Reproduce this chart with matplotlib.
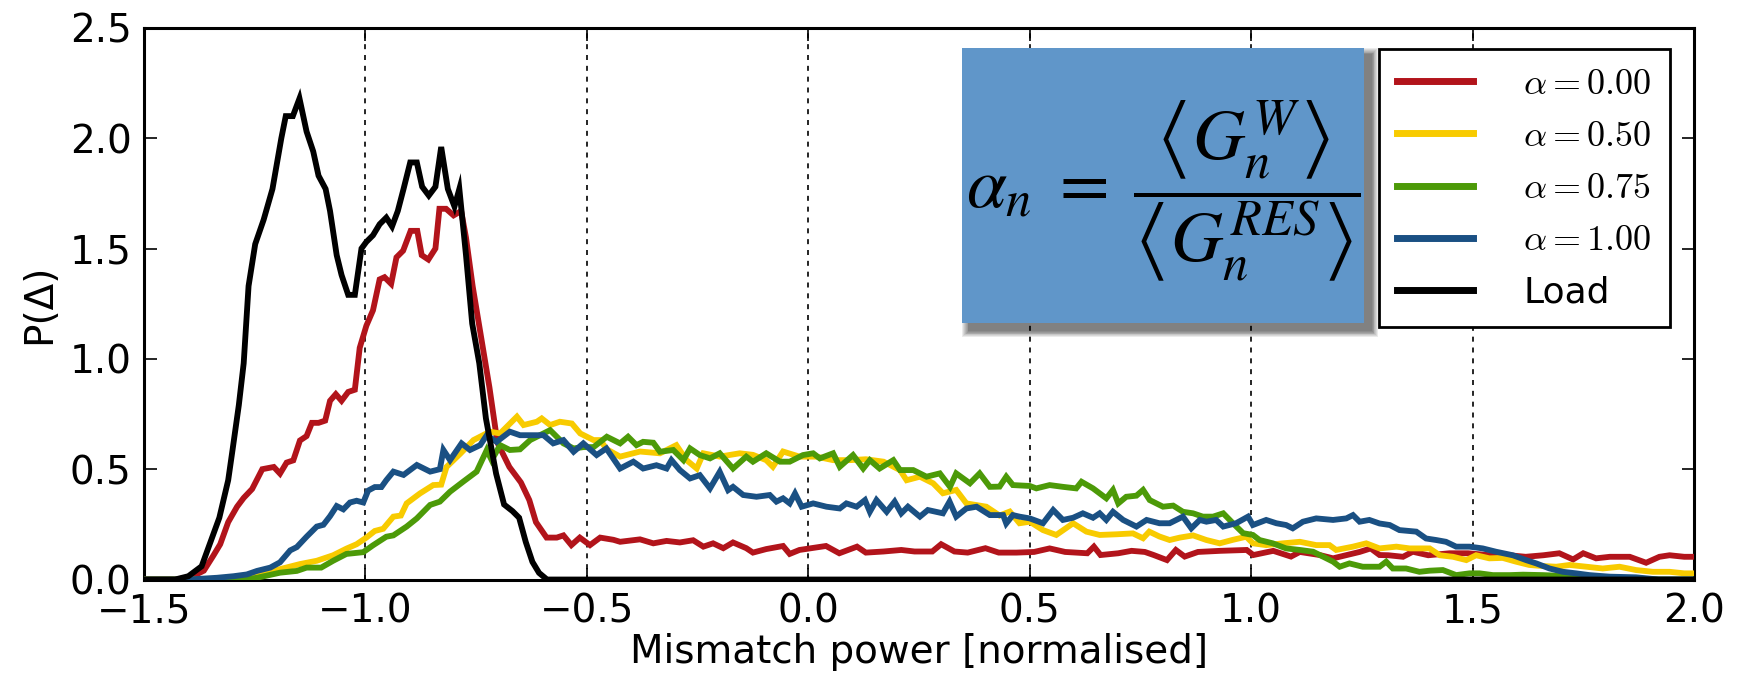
import numpy as np
import matplotlib
matplotlib.use("Agg")
import matplotlib.pyplot as plt
from matplotlib.patches import Rectangle

plt.rcParams.update({
    "font.family":      "DejaVu Sans",
    "mathtext.fontset": "cm",
    "font.size":        28,
    "axes.linewidth":   2.2,
    "xtick.direction":  "in",
    "ytick.direction":  "in",
    "xtick.top":        True,
    "ytick.right":      True,
    "xtick.major.size": 9,
    "ytick.major.size": 9,
    "xtick.major.width": 1.2,
    "ytick.major.width": 1.2,
    "xtick.major.pad":  9,
    "ytick.major.pad":  9,
})

RED    = "#B2141B"
YELLOW = "#F8CB00"
GREEN  = "#4C9A08"
BLUE   = "#1A5083"
BOXC   = "#6096C9"

labels = [r"$\alpha = 0.00$", r"$\alpha = 0.50$", r"$\alpha = 0.75$", r"$\alpha = 1.00$", "Load"]

# alpha = 0.00
x_red = [-1.5, -1.425, -1.39, -1.365, -1.343, -1.328, -1.31, -1.29, -1.275, -1.256, -1.233, -1.207,
         -1.193, -1.178, -1.163, -1.148, -1.133, -1.121, -1.106, -1.091, -1.08, -1.067, -1.054, -1.039,
         -1.024, -1.013, -0.998, -0.983, -0.968, -0.957, -0.942, -0.93, -0.915, -0.898, -0.883, -0.873,
         -0.858, -0.842, -0.833, -0.818, -0.801, -0.784, -0.773, -0.758, -0.739, -0.72, -0.702, -0.675,
         -0.649, -0.63, -0.615, -0.591, -0.568, -0.553, -0.535, -0.516, -0.493, -0.47, -0.44, -0.425,
         -0.38, -0.35, -0.32, -0.29, -0.26, -0.237, -0.215, -0.192, -0.17, -0.14, -0.125, -0.095,
         -0.057, -0.042, -0.02, 0.0, 0.04, 0.07, 0.11, 0.13, 0.17, 0.21, 0.24, 0.28, 0.30, 0.33, 0.36,
         0.40, 0.43, 0.47, 0.51, 0.545, 0.58, 0.63, 0.645, 0.66, 0.70, 0.73, 0.76, 0.78, 0.81, 0.83,
         0.85, 0.88, 0.93, 0.99, 1.005, 1.05, 1.09, 1.11, 1.155, 1.185, 1.245, 1.27, 1.29, 1.31, 1.343,
         1.365, 1.40, 1.448, 1.49, 1.54, 1.583, 1.62, 1.66, 1.696, 1.727, 1.75, 1.779, 1.81, 1.855,
         1.892, 1.922, 1.945, 1.978, 2.0]
y_red = [0, 0, 0.015, 0.04, 0.11, 0.16, 0.26, 0.33, 0.37, 0.41, 0.50, 0.51,
         0.48, 0.53, 0.54, 0.63, 0.65, 0.71, 0.71, 0.72, 0.81, 0.84, 0.81, 0.85,
         0.86, 1.05, 1.15, 1.22, 1.36, 1.37, 1.34, 1.46, 1.49, 1.58, 1.58, 1.47,
         1.45, 1.50, 1.68, 1.68, 1.65, 1.67, 1.55, 1.33, 1.10, 0.87, 0.62, 0.51,
         0.44, 0.36, 0.26, 0.19, 0.19, 0.20, 0.156, 0.19, 0.156, 0.19, 0.18, 0.171,
         0.182, 0.164, 0.175, 0.168, 0.178, 0.149, 0.164, 0.142, 0.168, 0.142, 0.122, 0.138,
         0.152, 0.116, 0.134, 0.14, 0.152, 0.119, 0.149, 0.122, 0.127, 0.134, 0.127, 0.127, 0.16, 0.127, 0.122,
         0.142, 0.122, 0.122, 0.125, 0.141, 0.125, 0.119, 0.149, 0.111, 0.119, 0.13, 0.125, 0.111, 0.088, 0.134,
         0.104, 0.125, 0.13, 0.134, 0.111, 0.13, 0.104, 0.125, 0.111, 0.096, 0.125, 0.141, 0.111, 0.11, 0.103,
         0.126, 0.11, 0.119, 0.119, 0.11, 0.11, 0.103, 0.11, 0.119, 0.091, 0.119, 0.096, 0.103, 0.103,
         0.076, 0.103, 0.11, 0.103, 0.103]

# alpha = 0.50
x_yel = [-1.5, -1.30, -1.245, -1.193, -1.148, -1.11, -1.073, -1.043, -1.02, -0.998, -0.979, -0.96,
         -0.937, -0.92, -0.907, -0.877, -0.847, -0.829, -0.817, -0.786, -0.756, -0.719, -0.696, -0.658,
         -0.643, -0.613, -0.602, -0.583, -0.561, -0.534, -0.515, -0.485, -0.47, -0.455, -0.425, -0.38,
         -0.335, -0.298, -0.275, -0.252, -0.237, -0.2, -0.155, -0.125, -0.095, -0.08, -0.057, -0.02,
         0.018, 0.056, 0.094, 0.13, 0.17, 0.207, 0.222, 0.252, 0.282, 0.304, 0.334, 0.357, 0.402, 0.432,
         0.455, 0.477, 0.50, 0.53, 0.56, 0.598, 0.628, 0.658, 0.696, 0.733, 0.756, 0.77, 0.793, 0.816,
         0.839, 0.869, 0.899, 0.929, 0.959, 0.989, 1.004, 1.034, 1.072, 1.11, 1.147, 1.177, 1.192, 1.23,
         1.26, 1.29, 1.328, 1.358, 1.403, 1.426, 1.456, 1.486, 1.508, 1.538, 1.568, 1.598, 1.628, 1.659,
         1.689, 1.719, 1.757, 1.794, 1.832, 1.869, 1.907, 1.945, 1.978, 2.0]
y_yel = [0, 0, 0.023, 0.047, 0.07, 0.085, 0.11, 0.14, 0.16, 0.19, 0.22, 0.23,
         0.285, 0.29, 0.345, 0.39, 0.428, 0.43, 0.51, 0.57, 0.632, 0.67, 0.662, 0.738,
         0.70, 0.715, 0.73, 0.70, 0.715, 0.707, 0.662, 0.632, 0.632, 0.59, 0.557, 0.58,
         0.572, 0.609, 0.541, 0.503, 0.572, 0.557, 0.572, 0.565, 0.541, 0.511, 0.58, 0.557,
         0.557, 0.541, 0.541, 0.545, 0.534, 0.496, 0.45, 0.466, 0.436, 0.391, 0.406, 0.345, 0.33, 0.29,
         0.308, 0.255, 0.262, 0.224, 0.202, 0.255, 0.217, 0.202, 0.205, 0.209, 0.187, 0.217, 0.195, 0.179,
         0.19, 0.20, 0.179, 0.164, 0.18, 0.194, 0.164, 0.156, 0.164, 0.171, 0.156, 0.156, 0.134, 0.149,
         0.164, 0.141, 0.149, 0.141, 0.141, 0.11, 0.103, 0.088, 0.11, 0.096, 0.098, 0.081, 0.066, 0.061,
         0.058, 0.066, 0.058, 0.05, 0.058, 0.043, 0.035, 0.035, 0.028, 0.028]

# alpha = 0.75
x_grn = [-1.5, -1.27, -1.245, -1.193, -1.155, -1.133, -1.10, -1.073, -1.043, -1.005, -0.983, -0.953,
         -0.937, -0.907, -0.884, -0.854, -0.832, -0.809, -0.779, -0.749, -0.726, -0.715, -0.696, -0.674,
         -0.651, -0.628, -0.606, -0.583, -0.553, -0.53, -0.508, -0.485, -0.455, -0.425, -0.407, -0.388,
         -0.373, -0.35, -0.335, -0.305, -0.282, -0.267, -0.245, -0.222, -0.2, -0.17, -0.14, -0.125,
         -0.095, -0.064, -0.042, -0.012, 0.011, 0.026, 0.056, 0.071, 0.101, 0.124, 0.139, 0.161, 0.192,
         0.207, 0.237, 0.267, 0.297, 0.32, 0.334, 0.365, 0.387, 0.41, 0.432, 0.447, 0.462, 0.50, 0.515,
         0.545, 0.575, 0.605, 0.617, 0.643, 0.673, 0.688, 0.70, 0.718, 0.741, 0.756, 0.771, 0.801, 0.824,
         0.846, 0.869, 0.891, 0.914, 0.937, 0.959, 0.982, 1.004, 1.019, 1.049, 1.079, 1.11, 1.14, 1.162,
         1.185, 1.20, 1.222, 1.252, 1.29, 1.305, 1.32, 1.35, 1.38, 1.403, 1.433, 1.463, 1.493, 1.516,
         1.546, 1.584, 1.614, 1.659, 1.696, 1.734, 1.794, 1.87, 1.92, 2.0]
y_grn = [0, 0, 0.008, 0.031, 0.039, 0.054, 0.054, 0.085, 0.116, 0.124, 0.155, 0.194,
         0.20, 0.24, 0.277, 0.338, 0.353, 0.398, 0.444, 0.489, 0.587, 0.541, 0.609, 0.587,
         0.59, 0.632, 0.654, 0.677, 0.617, 0.594, 0.60, 0.60, 0.647, 0.617, 0.647, 0.609,
         0.624, 0.62, 0.579, 0.587, 0.541, 0.594, 0.564, 0.549, 0.572, 0.503, 0.557, 0.534,
         0.572, 0.534, 0.534, 0.564, 0.572, 0.549, 0.572, 0.511, 0.564, 0.503, 0.541, 0.503, 0.541,
         0.496, 0.496, 0.466, 0.481, 0.42, 0.481, 0.436, 0.481, 0.42, 0.421, 0.466, 0.428, 0.424, 0.413,
         0.428, 0.42, 0.413, 0.443, 0.413, 0.368, 0.406, 0.345, 0.375, 0.38, 0.406, 0.36, 0.33, 0.335,
         0.307, 0.30, 0.285, 0.285, 0.30, 0.255, 0.21, 0.202, 0.179, 0.164, 0.141, 0.134, 0.126, 0.104,
         0.081, 0.058, 0.073, 0.058, 0.058, 0.081, 0.05, 0.05, 0.035, 0.04, 0.043, 0.02, 0.028, 0.028,
         0.02, 0.02, 0.022, 0.02, 0.017, 0.013, 0.01, 0.005, 0, 0]

# alpha = 1.00
x_blu = [-1.5, -1.40, -1.335, -1.298, -1.268, -1.245, -1.215, -1.193, -1.17, -1.155, -1.133, -1.11,
         -1.095, -1.08, -1.065, -1.05, -1.035, -1.02, -1.005, -0.994, -0.979, -0.964, -0.953, -0.937,
         -0.914, -0.884, -0.854, -0.832, -0.824, -0.809, -0.783, -0.764, -0.741, -0.726, -0.704, -0.674,
         -0.651, -0.628, -0.598, -0.576, -0.553, -0.53, -0.508, -0.478, -0.456, -0.425, -0.395, -0.373,
         -0.343, -0.32, -0.309, -0.29, -0.267, -0.245, -0.222, -0.20, -0.181, -0.17, -0.147, -0.117,
         -0.087, -0.072, -0.057, -0.042, -0.03, -0.015, 0.011, 0.041, 0.071, 0.086, 0.109, 0.128, 0.139,
         0.154, 0.177, 0.195, 0.21, 0.225, 0.252, 0.27, 0.304, 0.319, 0.334, 0.357, 0.38, 0.41, 0.44,
         0.447, 0.462, 0.477, 0.50, 0.53, 0.553, 0.575, 0.598, 0.62, 0.643, 0.658, 0.673, 0.688, 0.711,
         0.741, 0.764, 0.793, 0.816, 0.846, 0.865, 0.884, 0.899, 0.921, 0.937, 0.966, 0.993, 1.004,
         1.034, 1.057, 1.079, 1.094, 1.117, 1.147, 1.185, 1.215, 1.23, 1.245, 1.267, 1.29, 1.313, 1.335,
         1.373, 1.395, 1.418, 1.44, 1.463, 1.493, 1.523, 1.553, 1.591, 1.621, 1.644, 1.674, 1.704, 1.734,
         1.764, 1.809, 1.869, 1.92, 2.0]
y_blu = [0, 0, 0.008, 0.015, 0.023, 0.039, 0.054, 0.078, 0.132, 0.147, 0.194, 0.24,
         0.248, 0.287, 0.333, 0.318, 0.349, 0.357, 0.349, 0.403, 0.419, 0.419, 0.45, 0.489,
         0.474, 0.519, 0.489, 0.50, 0.587, 0.541, 0.617, 0.587, 0.609, 0.654, 0.624, 0.67,
         0.654, 0.654, 0.654, 0.617, 0.632, 0.579, 0.617, 0.564, 0.594, 0.503, 0.534, 0.503,
         0.518, 0.503, 0.541, 0.496, 0.458, 0.473, 0.413, 0.488, 0.405, 0.42, 0.383, 0.375,
         0.383, 0.353, 0.368, 0.345, 0.39, 0.33, 0.345, 0.33, 0.322, 0.345, 0.33, 0.36, 0.307,
         0.36, 0.307, 0.353, 0.30, 0.33, 0.285, 0.315, 0.30, 0.353, 0.285, 0.322, 0.33, 0.292, 0.292,
         0.254, 0.292, 0.285, 0.277, 0.255, 0.315, 0.27, 0.28, 0.30, 0.28, 0.30, 0.27, 0.307, 0.27,
         0.24, 0.27, 0.255, 0.255, 0.285, 0.232, 0.27, 0.262, 0.27, 0.24, 0.255, 0.285, 0.247,
         0.27, 0.255, 0.247, 0.232, 0.262, 0.277, 0.27, 0.277, 0.292, 0.262, 0.27, 0.254, 0.247, 0.224,
         0.217, 0.186, 0.179, 0.171, 0.149, 0.149, 0.141, 0.126, 0.11, 0.088, 0.073, 0.05, 0.035, 0.028,
         0.02, 0.013, 0.01, 0, 0]

# load
x_load = [-1.5, -1.43, -1.40, -1.37, -1.35, -1.33, -1.31, -1.30, -1.286, -1.275, -1.264, -1.249,
          -1.23, -1.21, -1.19, -1.18, -1.164, -1.149, -1.133, -1.118, -1.106, -1.09, -1.08, -1.065,
          -1.054, -1.039, -1.024, -1.009, -0.998, -0.983, -0.968, -0.953, -0.94, -0.927, -0.914, -0.899,
          -0.884, -0.872, -0.857, -0.842, -0.829, -0.814, -0.799, -0.788, -0.773, -0.759, -0.743, -0.728,
          -0.705, -0.687, -0.668, -0.653, -0.638, -0.623, -0.608, -0.59, 2.0]
y_load = [0, 0, 0.015, 0.06, 0.17, 0.28, 0.45, 0.59, 0.79, 0.98, 1.33, 1.52,
          1.63, 1.77, 2.00, 2.10, 2.10, 2.18, 2.03, 1.94, 1.83, 1.77, 1.67, 1.47,
          1.38, 1.29, 1.29, 1.50, 1.53, 1.56, 1.61, 1.64, 1.60, 1.67, 1.77, 1.89,
          1.89, 1.78, 1.74, 1.78, 1.96, 1.77, 1.69, 1.77, 1.47, 1.16, 0.98, 0.73,
          0.48, 0.34, 0.31, 0.28, 0.17, 0.08, 0.03, 0.0, 0.0]

xticks = [-1.5, -1.0, -0.5, 0.0, 0.5, 1.0, 1.5, 2.0]
yticks = [0.0, 0.5, 1.0, 1.5, 2.0, 2.5]

fig = plt.figure(figsize=(17.44, 6.79), dpi=100)
ax = fig.add_axes([0.0826, 0.1465, 0.8887, 0.8125])

series = [(x_red, y_red, RED), (x_yel, y_yel, YELLOW), (x_grn, y_grn, GREEN),
          (x_blu, y_blu, BLUE), (x_load, y_load, "black")]
for (xs, ys, c), lab in zip(series, labels):
    ax.plot(xs, ys, color=c, lw=4.2, label=lab, solid_joinstyle="miter", zorder=3)

ax.set_xlim(-1.5, 2.0)
ax.set_ylim(0, 2.5)
ax.set_xticks(xticks)
ax.set_yticks(yticks)
ax.set_xticklabels([f"{v:.1f}".replace("-", "\u2212") for v in xticks])
ax.set_yticklabels([f"{v:.1f}" for v in yticks])
ax.xaxis.grid(True, color="black", linestyle=(0, (3, 3.5)), lw=1.2)
ax.set_axisbelow(True)
ax.set_xlabel("Mismatch power [normalised]", labelpad=2)
ax.set_ylabel("P(\u0394)", labelpad=8)

# formula box with soft shadow
bx0, bx1, by0, by1 = 0.528, 0.787, 0.465, 0.963
px, py = 1 / 1550, 1 / 551.7
for i in range(8):
    g = (8 - i) * 0.9
    ax.add_patch(Rectangle((bx0 + (7 - g) * px, by0 - (7 + g) * py),
                           (bx1 - bx0) + 2 * g * px, (by1 - by0) + 2 * g * py,
                           transform=ax.transAxes, facecolor="black", edgecolor="none",
                           alpha=0.08, zorder=4))
ax.add_patch(Rectangle((bx0, by0), bx1 - bx0, by1 - by0, transform=ax.transAxes,
                       facecolor=BOXC, edgecolor="none", zorder=5))
ax.text((bx0 + bx1) / 2, (by0 + by1) / 2 - 0.01,
        r"$\alpha_n\;=\;\dfrac{\left\langle G_n^W \right\rangle}{\left\langle G_n^{RES} \right\rangle}$",
        transform=ax.transAxes, ha="center", va="center", fontsize=52,
        math_fontfamily="stix", zorder=6)

leg = ax.legend(loc="upper right", bbox_to_anchor=(0.9845, 0.9616), borderaxespad=0,
                fontsize=26, handlelength=2.1, handletextpad=1.4, labelspacing=0.5,
                borderpad=0.5, fancybox=False, framealpha=1)
leg.get_frame().set_edgecolor("black")
leg.get_frame().set_linewidth(2.0)
leg.set_zorder(7)
for h in leg.get_lines():
    h.set_linewidth(5)

fig.savefig("out.png", dpi=100)
